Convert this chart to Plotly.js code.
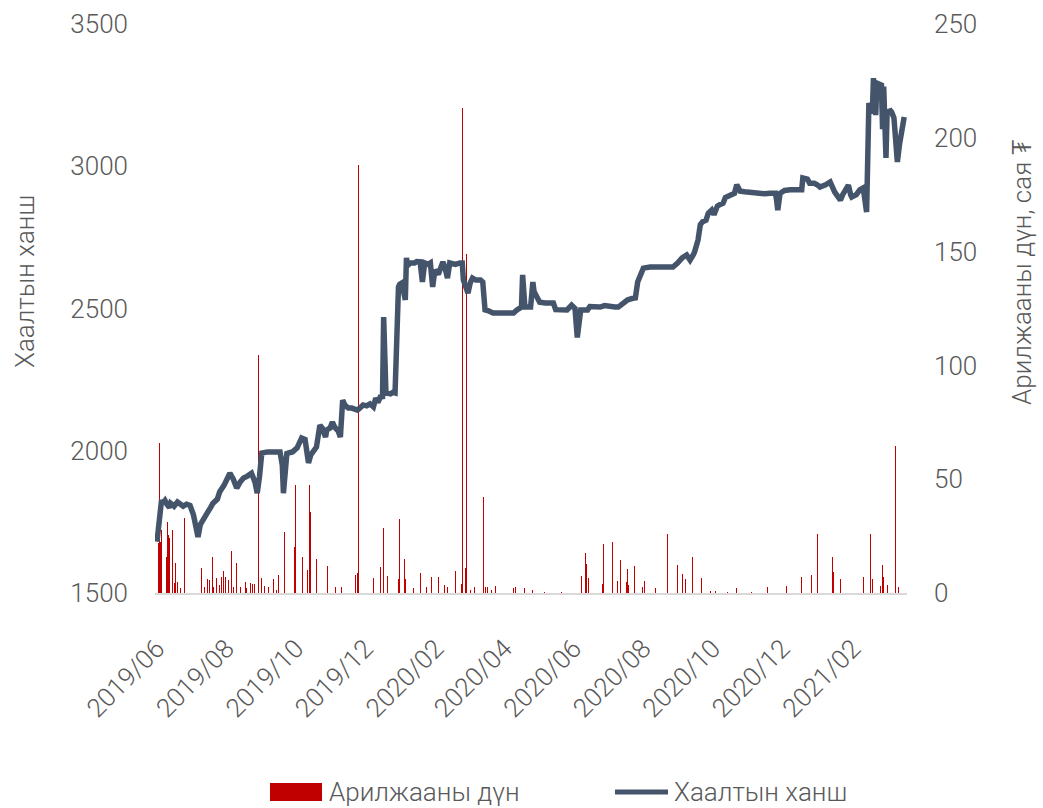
<!DOCTYPE html>
<html>
<head>
<meta charset="utf-8">
<script src="https://cdn.plot.ly/plotly-3.0.1.min.js"></script>
<style>
  html, body { margin: 0; padding: 0; background: #ffffff; }
  #chart { width: 1043px; height: 808px; }
</style>
</head>
<body>
<div id="chart"></div>
<script>
// ---- Closing price (Хаалтын ханш) ----
const priceDates = [
'2019-06-01','2019-06-03','2019-06-05','2019-06-06','2019-06-08','2019-06-10','2019-06-12','2019-06-13','2019-06-16','2019-06-19',
'2019-06-21','2019-06-24','2019-06-27','2019-06-28','2019-06-30','2019-07-03','2019-07-05','2019-07-07','2019-07-09','2019-07-11',
'2019-07-13','2019-07-15','2019-07-18','2019-07-20','2019-07-24','2019-07-26','2019-07-30','2019-08-02','2019-08-04','2019-08-07',
'2019-08-10','2019-08-13','2019-08-16','2019-08-19','2019-08-23','2019-08-26','2019-08-28','2019-08-30','2019-09-01','2019-09-06',
'2019-09-10','2019-09-14','2019-09-17','2019-09-19','2019-09-20','2019-09-22','2019-09-23','2019-09-26','2019-09-28','2019-10-02',
'2019-10-05','2019-10-06','2019-10-09','2019-10-11','2019-10-12','2019-10-14','2019-10-16','2019-10-19','2019-10-22','2019-10-24',
'2019-10-27','2019-10-28','2019-10-31','2019-11-02','2019-11-04','2019-11-07','2019-11-09','2019-11-11','2019-11-13','2019-11-16',
'2019-11-19','2019-11-24','2019-11-26','2019-11-29','2019-12-02','2019-12-05','2019-12-08','2019-12-10','2019-12-12','2019-12-14',
'2019-12-16','2019-12-17','2019-12-19','2019-12-23','2019-12-25','2019-12-27','2019-12-30','2019-12-31','2020-01-02','2020-01-04',
'2020-01-05','2020-01-06','2020-01-07','2020-01-09','2020-01-13','2020-01-15','2020-01-18','2020-01-20','2020-01-22','2020-01-25',
'2020-01-27','2020-01-29','2020-01-31','2020-02-03','2020-02-05','2020-02-07','2020-02-09','2020-02-11','2020-02-13','2020-02-18',
'2020-02-22','2020-02-24','2020-02-25','2020-02-27','2020-02-29','2020-03-02','2020-03-04','2020-03-07','2020-03-11','2020-03-13',
'2020-03-15','2020-03-18','2020-03-22','2020-03-28','2020-04-03','2020-04-09','2020-04-12','2020-04-15','2020-04-16','2020-04-17',
'2020-04-18','2020-04-19','2020-04-24','2020-04-26','2020-04-27','2020-04-30','2020-05-02','2020-05-07','2020-05-11','2020-05-14',
'2020-05-16','2020-05-20','2020-05-26','2020-05-30','2020-06-02','2020-06-04','2020-06-06','2020-06-07','2020-06-11','2020-06-13',
'2020-06-15','2020-06-20','2020-06-24','2020-06-28','2020-07-03','2020-07-07','2020-07-10','2020-07-13','2020-07-18','2020-07-22',
'2020-07-25','2020-07-27','2020-08-01','2020-08-07','2020-08-16','2020-08-23','2020-08-27','2020-08-31','2020-09-04','2020-09-08',
'2020-09-11','2020-09-14','2020-09-15','2020-09-18','2020-09-20','2020-09-22','2020-09-25','2020-09-27','2020-09-30','2020-10-02',
'2020-10-05','2020-10-07','2020-10-10','2020-10-12','2020-10-14','2020-10-17','2020-10-20','2020-10-22','2020-10-25','2020-10-29',
'2020-11-03','2020-11-07','2020-11-11','2020-11-16','2020-11-20','2020-11-25','2020-11-26','2020-11-27','2020-11-29','2020-12-03',
'2020-12-08','2020-12-12','2020-12-17','2020-12-18','2020-12-19','2020-12-23','2020-12-25','2020-12-29','2021-01-01','2021-01-03',
'2021-01-08','2021-01-12','2021-01-16','2021-01-19','2021-01-21','2021-01-23','2021-01-26','2021-01-28','2021-01-30','2021-01-31',
'2021-02-04','2021-02-07','2021-02-10','2021-02-12','2021-02-13','2021-02-15','2021-02-17','2021-02-18','2021-02-19','2021-02-21',
'2021-02-22','2021-02-25','2021-02-26','2021-02-27','2021-02-28','2021-03-02','2021-03-03','2021-03-06','2021-03-07','2021-03-09',
'2021-03-12','2021-03-14','2021-03-18'
];
const priceValues = [
1680,1760,1827,1815,1825,1810,1800,1815,1805,1820,
1815,1805,1812,1810,1808,1775,1730,1697,1740,1757,
1765,1781,1800,1815,1830,1855,1880,1900,1921,1900,
1869,1890,1904,1910,1921,1890,1851,1910,1992,1996,
1998,1996,1996,1950,1851,1940,1990,1994,1996,2010,
2030,2045,2040,1975,1957,1985,1996,2013,2090,2080,
2048,2073,2080,2101,2083,2070,2048,2178,2160,2150,
2150,2143,2150,2161,2158,2165,2154,2185,2170,2189,
2190,2470,2203,2200,2205,2203,2576,2585,2590,2560,
2530,2678,2650,2660,2660,2665,2664,2593,2660,2655,
2660,2576,2635,2620,2650,2664,2640,2607,2660,2655,
2660,2660,2600,2580,2554,2590,2607,2600,2600,2593,
2495,2492,2484,2484,2484,2484,2495,2505,2505,2618,
2520,2505,2505,2593,2560,2540,2522,2519,2519,2519,
2496,2495,2495,2512,2500,2398,2480,2495,2495,2495,
2507,2507,2505,2510,2505,2505,2505,2515,2530,2535,
2537,2593,2642,2646,2648,2646,2646,2660,2678,2688,
2670,2690,2699,2741,2795,2805,2810,2835,2846,2830,
2860,2865,2870,2890,2895,2900,2905,2935,2912,2910,
2908,2905,2907,2903,2905,2905,2880,2846,2905,2915,
2917,2917,2917,2917,2959,2955,2940,2940,2934,2927,
2935,2945,2909,2890,2881,2900,2925,2934,2900,2892,
2900,2917,2924,2880,2839,3222,3200,3187,3310,3180,
3292,3285,3285,3130,3280,3029,3190,3195,3190,3170,
3015,3080,3173
];

// ---- Trading value (Арилжааны дүн, сая ₮) ----
const volumeDates = [
'2019-06-01','2019-06-02','2019-06-03','2019-06-04','2019-06-05','2019-06-09','2019-06-10','2019-06-11','2019-06-12','2019-06-15',
'2019-06-16','2019-06-17','2019-06-19','2019-06-22','2019-06-25','2019-07-07','2019-07-10','2019-07-13','2019-07-15','2019-07-17',
'2019-07-20','2019-07-21','2019-07-23','2019-07-26','2019-07-28','2019-07-29','2019-07-31','2019-08-03','2019-08-05','2019-08-07',
'2019-08-10','2019-08-13','2019-08-18','2019-08-19','2019-08-22','2019-08-24','2019-08-26','2019-08-29','2019-09-01','2019-09-03',
'2019-09-07','2019-09-11','2019-09-14','2019-09-16','2019-09-17','2019-09-21','2019-09-24','2019-09-30','2019-10-01','2019-10-07',
'2019-10-11','2019-10-13','2019-10-14','2019-10-19','2019-10-29','2019-11-05','2019-11-10','2019-11-22','2019-11-24','2019-11-25',
'2019-12-08','2019-12-14','2019-12-17','2019-12-20','2019-12-30','2019-12-31','2020-01-04','2020-01-05','2020-01-12','2020-01-18',
'2020-01-24','2020-01-28','2020-02-03','2020-02-08','2020-02-11','2020-02-18','2020-02-23','2020-02-24','2020-02-27','2020-02-28',
'2020-03-02','2020-03-06','2020-03-14','2020-03-15','2020-03-17','2020-03-21','2020-03-24','2020-04-09','2020-04-11','2020-04-19',
'2020-04-26','2020-05-06','2020-05-21','2020-06-08','2020-06-11','2020-06-12','2020-06-14','2020-06-26','2020-06-27','2020-07-05',
'2020-07-09','2020-07-12','2020-07-17','2020-07-18','2020-07-19','2020-07-24','2020-07-31','2020-08-02','2020-08-12','2020-08-22',
'2020-08-31','2020-09-04','2020-09-07','2020-09-13','2020-09-21','2020-09-29','2020-10-03','2020-10-14','2020-10-22','2020-11-04',
'2020-11-18','2020-12-05','2020-12-18','2020-12-27','2021-01-01','2021-01-14','2021-01-15','2021-01-21','2021-02-10','2021-02-16',
'2021-02-18','2021-02-25','2021-02-27','2021-02-28','2021-03-03','2021-03-10','2021-03-13'
];
const volumeValues = [
15.8,22,66,22.4,27.7,15.8,31,25.5,24,27.7,
4.4,13,4.8,2,33,22,11,2.6,6,5.7,
16,2.6,6.4,3.5,7,9.6,7,5.7,18.4,2.6,
13,2.6,4.8,2,4.4,4,4,104.6,6.4,3,
2.6,6,1.3,8,50,27,12.7,20,47.5,16,
10,47.5,35.6,15,12,2.6,2.6,8,9,188,
6.6,11.4,28.6,7.5,6,32.5,15,6,2,8.8,
2.6,7,7,3.5,2.6,9.6,4,213,11,149,
1.5,2.6,42,2.6,2.6,1.5,3,2,2.6,2,
1.3,0.6,0.5,7.5,17.6,12.7,6.6,4,21.5,22.4,
5.3,14.5,4.8,10.5,3.5,11.9,2.6,5.3,2,26,
12.3,8.4,6.2,15.8,6.6,1,1,0.6,2,0.6,
2.6,3,7,8,26,15.8,9.2,6.2,7,26,
6,3,12.3,7,3.6,64.6,2.6
];

// ---- Axis ticks ----
const tickDates = ['2019-06-01','2019-08-01','2019-10-01','2019-12-01','2020-02-01','2020-04-01',
                   '2020-06-01','2020-08-01','2020-10-01','2020-12-01','2021-02-01'];
const tickLabels = ['2019/06','2019/08','2019/10','2019/12','2020/02','2020/04',
                    '2020/06','2020/08','2020/10','2020/12','2021/02'];

const seriesNames = ['Арилжааны дүн', 'Хаалтын ханш'];
const priceAxisTitle = 'Хаалтын ханш';
const volumeAxisTitle = 'Арилжааны дүн, сая ₮';

const FONT = 'Roboto, Inter, "Open Sans", sans-serif';
const GREY = '#595959';
const RED = '#C00000';
const NAVY = '#44546A';

const traces = [
  {
    type: 'bar',
    name: seriesNames[0],
    x: volumeDates,
    y: volumeValues,
    width: 86400000 * 0.85,
    marker: { color: RED, line: { width: 0 } },
    xaxis: 'x',
    yaxis: 'y',
    showlegend: false,
    hoverinfo: 'x+y'
  },
  {
    type: 'scatter',
    mode: 'lines',
    name: seriesNames[1],
    x: priceDates,
    y: priceValues,
    line: { color: NAVY, width: 5.5, shape: 'linear' },
    xaxis: 'x',
    yaxis: 'y2',
    showlegend: false
  }
];

const tickFont = { family: FONT, size: 26, color: GREY, weight: 300 };
const titleFont = { family: FONT, size: 26, color: GREY, weight: 300 };

const layout = {
  width: 1043,
  height: 808,
  margin: { l: 155, r: 136, t: 24, b: 215, pad: 0 },
  paper_bgcolor: '#ffffff',
  plot_bgcolor: '#ffffff',
  font: { family: FONT, color: GREY, weight: 300 },
  bargap: 0,
  xaxis: {
    type: 'date',
    range: ['2019-05-30 06:00', '2021-03-20 11:00'],
    tickmode: 'array',
    tickvals: tickDates,
    ticktext: tickLabels,
    tickangle: -45,
    tickfont: tickFont,
    ticks: '',
    ticklabelstandoff: 28,
    showgrid: false,
    zeroline: false,
    showline: true,
    linecolor: '#D9D9D9',
    linewidth: 2
  },
  yaxis: {
    range: [0, 250],
    dtick: 50,
    side: 'right',
    tickfont: tickFont,
    ticks: '',
    ticklabelstandoff: 26,
    showgrid: false,
    zeroline: false,
    showline: false
  },
  yaxis2: {
    range: [1500, 3500],
    dtick: 500,
    side: 'left',
    overlaying: 'y',
    tickfont: tickFont,
    ticks: '',
    ticklabelstandoff: 26,
    showgrid: false,
    zeroline: false,
    showline: false
  },
  shapes: [
    { type: 'rect', xref: 'paper', yref: 'paper',
      x0: 0.1529, x1: 0.2221, y0: -0.3655, y1: -0.3339,
      fillcolor: RED, line: { width: 0 } },
    { type: 'line', xref: 'paper', yref: 'paper',
      x0: 0.6117, x1: 0.6822, y0: -0.3497, y1: -0.3497,
      line: { color: NAVY, width: 5 } }
  ],
  annotations: [
    // axis titles
    { xref: 'paper', yref: 'paper', x: -0.1729, y: 0.5483, xanchor: 'center', yanchor: 'middle',
      textangle: -90, text: priceAxisTitle, showarrow: false, font: titleFont },
    { xref: 'paper', yref: 'paper', x: 1.1529, y: 0.5641, xanchor: 'center', yanchor: 'middle',
      textangle: -90, text: volumeAxisTitle, showarrow: false, font: titleFont },
    // legend
    { xref: 'paper', yref: 'paper', x: 0.2287, y: -0.3497, xanchor: 'left', yanchor: 'middle',
      text: seriesNames[0], showarrow: false, font: { family: FONT, size: 26, color: GREY, weight: 300 } },
    { xref: 'paper', yref: 'paper', x: 0.6875, y: -0.3497, xanchor: 'left', yanchor: 'middle',
      text: seriesNames[1], showarrow: false, font: { family: FONT, size: 26, color: GREY, weight: 300 } }
  ]
};

Plotly.newPlot('chart', traces, layout, { displayModeBar: false, staticPlot: true });
</script>
</body>
</html>
